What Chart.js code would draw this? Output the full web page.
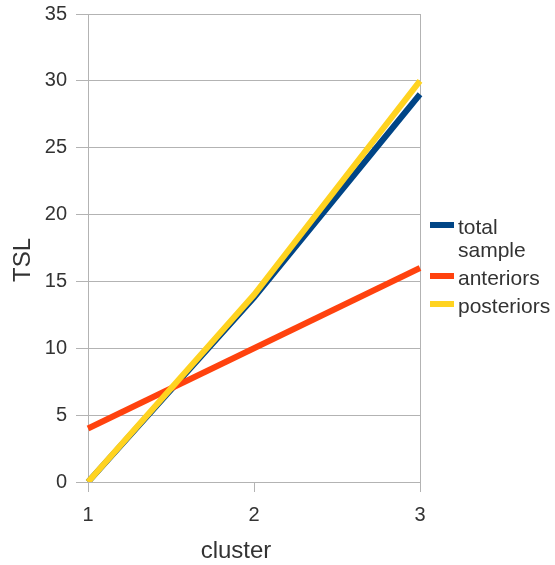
<!DOCTYPE html>
<html>
<head>
<meta charset="utf-8">
<script src="https://cdn.jsdelivr.net/npm/chart.js@4"></script>
<style>
  html, body { margin: 0; padding: 0; background: #fff; }
  .wrap { position: relative; width: 555px; height: 565px; }
  .legend { position: absolute; left: 430px; top: 215px; font-family: "Liberation Sans", Arial, sans-serif; font-size: 21px; color: #333; }
  .legend .item { position: relative; padding-left: 28px; line-height: 23px; margin-bottom: 5px; }
  .legend .sw { position: absolute; left: 0; top: 7px; width: 24px; height: 6px; }
</style>
</head>
<body>
<div class="wrap">
  <canvas id="c" width="555" height="565"></canvas>
  <div class="legend" id="legend"></div>
</div>
<script>
// data
const clusters = ['1', '2', '3'];
const totalSample = [0, 13.8, 29];
const anteriors = [4, 10, 16];
const posteriors = [0, 14, 30];

const seriesNames = [['total', 'sample'], ['anteriors'], ['posteriors']];
const seriesColors = ['#004586', '#ff420e', '#ffd320'];
const seriesData = [totalSample, anteriors, posteriors];

const gridGrey = '#b3b3b3';
const fam = '"Liberation Sans", Arial, sans-serif';
const tickFont = { family: fam, size: 20 };

// axis titles drawn where the original put them
const axisTitles = {
  id: 'axisTitles',
  afterDraw(chart) {
    const ctx = chart.ctx;
    ctx.save();
    ctx.fillStyle = '#333';
    ctx.font = '24px ' + fam;
    ctx.textAlign = 'center';
    ctx.textBaseline = 'alphabetic';
    ctx.fillText('cluster', 236, 558);
    ctx.translate(30, 260);
    ctx.rotate(-Math.PI / 2);
    ctx.fillText('TSL', 0, 0);
    ctx.restore();
  }
};

new Chart(document.getElementById('c'), {
  type: 'line',
  data: {
    labels: clusters,
    datasets: seriesData.map((d, i) => ({
      label: seriesNames[i].join(' '),
      data: d,
      borderColor: seriesColors[i],
      backgroundColor: seriesColors[i],
      borderWidth: 6,
      pointRadius: 0,
      tension: 0,
      order: 2 - i
    }))
  },
  plugins: [axisTitles],
  options: {
    responsive: false,
    animation: false,
    layout: { padding: { left: 0, right: 135, top: 14, bottom: 0 } },
    plugins: { legend: { display: false }, tooltip: { enabled: false } },
    scales: {
      x: {
        offset: false,
        afterFit: s => { s.height = 83; s.paddingLeft = 0; s.paddingRight = 0; },
        grid: {
          color: c => c.index === 1 ? 'rgba(0,0,0,0)' : gridGrey,
          tickColor: gridGrey,
          tickLength: 10
        },
        border: { display: false },
        ticks: { color: '#333', font: tickFont, padding: 11 }
      },
      y: {
        min: 0, max: 35,
        afterFit: s => { s.width = 88; s.paddingTop = 0; s.paddingBottom = 0; },
        grid: { color: gridGrey, tickColor: gridGrey, tickLength: 12 },
        border: { display: true, color: gridGrey },
        ticks: { stepSize: 5, color: '#333', font: tickFont, padding: 9 }
      }
    }
  }
});

const legend = document.getElementById('legend');
seriesNames.forEach((n, i) => {
  const item = document.createElement('div');
  item.className = 'item';
  item.innerHTML = '<span class="sw" style="background:' + seriesColors[i] + '"></span>' + n.join('<br>');
  legend.appendChild(item);
});
</script>
</body>
</html>
